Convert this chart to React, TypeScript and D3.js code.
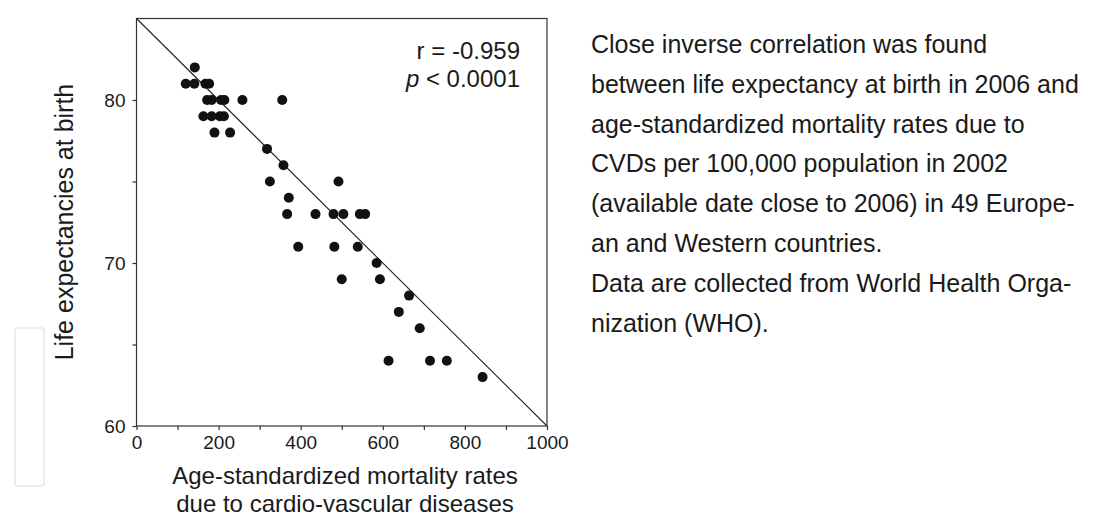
import React, { useEffect, useRef } from 'react';
import * as d3 from 'd3';

// mortality rates (per 100,000) and life expectancy
const mortality = [
    142,
    120, 141, 168, 177,
    172, 183, 206, 214, 258, 355,
    163, 183, 203, 213,
    190, 228,
    318,
    358,
    325, 492,
    371,
    367, 436, 480, 504, 544, 557,
    394, 482, 539,
    585,
    500, 593,
    664,
    639,
    690,
    614, 715, 756,
    843,
];
const lifeExp = [
    82,
    81, 81, 81, 81,
    80, 80, 80, 80, 80, 80,
    79, 79, 79, 79,
    78, 78,
    77,
    76,
    75, 75,
    74,
    73, 73, 73, 73, 73, 73,
    71, 71, 71,
    70,
    69, 69,
    68,
    67,
    66,
    64, 64, 64,
    63,
];
const fitX = [0, 1000];
const fitY = [85, 60];
const xTicks = [0, 100, 200, 300, 400, 500, 600, 700, 800, 900, 1000];
const yTicks = [60, 65, 70, 75, 80];
const noteLines = [
    'Close inverse correlation was found',
    'between life expectancy at birth in 2006 and',
    'age-standardized mortality rates due to',
    'CVDs per 100,000 population in 2002',
    '(available date close to 2006) in 49 Europe-',
    'an and Western countries.',
    'Data are collected from World Health Orga-',
    'nization (WHO).',
];

const FONT = '"Liberation Sans", Arial, Helvetica, sans-serif';

const App = () => {
    const svgRef = useRef();

    useEffect(() => {
        const svg = d3.select(svgRef.current);
        const width = 1112;
        const height = 519;
        svg.attr('width', width).attr('height', height).selectAll('*').remove();

        const x = d3.scaleLinear().domain([0, 1000]).range([136.5, 547]);
        const y = d3.scaleLinear().domain([60, 85]).range([426, 18.5]);
        const ink = '#1a1a1a';

        // faint box on the left edge of the scan
        svg.append('rect')
            .attr('x', 15).attr('y', 328).attr('width', 29).attr('height', 158)
            .attr('rx', 3)
            .attr('fill', 'none').attr('stroke', '#ededed').attr('stroke-width', 2);

        // frame
        svg.append('rect')
            .attr('x', x(0)).attr('y', y(85))
            .attr('width', x(1000) - x(0)).attr('height', y(60) - y(85))
            .attr('fill', 'none').attr('stroke', '#333').attr('stroke-width', 1.2);

        const gx = svg.append('g')
            .attr('transform', `translate(0, ${y(60)})`)
            .call(d3.axisBottom(x).tickValues(xTicks).tickSize(4).tickPadding(6)
                .tickFormat(d => (d % 200 === 0 ? String(d) : '')));
        const gy = svg.append('g')
            .attr('transform', `translate(${x(0)}, 0)`)
            .call(d3.axisLeft(y).tickValues(yTicks).tickSize(4).tickPadding(7)
                .tickFormat(d => (d % 10 === 0 ? String(d) : '')));
        [gx, gy].forEach(g => {
            g.select('.domain').remove();
            g.selectAll('line').attr('stroke', '#333').attr('stroke-width', 1.2);
            g.selectAll('text')
                .attr('font-family', FONT).attr('font-size', 19).attr('fill', ink);
        });

        // regression line
        svg.append('path')
            .datum(fitX.map((v, i) => [v, fitY[i]]))
            .attr('d', d3.line().x(d => x(d[0])).y(d => y(d[1])))
            .attr('fill', 'none').attr('stroke', '#222').attr('stroke-width', 1.1);

        svg.selectAll('.dot')
            .data(mortality.map((v, i) => [v, lifeExp[i]]))
            .enter()
            .append('circle')
            .attr('class', 'dot')
            .attr('cx', d => x(d[0]))
            .attr('cy', d => y(d[1]))
            .attr('r', 5)
            .attr('fill', '#111');

        // r and p
        const stat = svg.append('g')
            .attr('font-family', FONT).attr('font-size', 24).attr('fill', ink)
            .attr('text-anchor', 'end');
        stat.append('text').attr('x', 520).attr('y', 59).text('r = -0.959');
        const p = stat.append('text').attr('x', 520).attr('y', 87);
        p.append('tspan').attr('font-style', 'italic').text('p');
        p.append('tspan').text(' < 0.0001');

        // axis titles
        svg.append('text')
            .attr('transform', 'translate(73, 222) rotate(-90)')
            .attr('text-anchor', 'middle')
            .attr('font-family', FONT).attr('font-size', 25).attr('fill', ink)
            .text('Life expectancies at birth');
        const xt = svg.append('text')
            .attr('text-anchor', 'middle')
            .attr('font-family', FONT).attr('font-size', 24).attr('fill', ink);
        xt.append('tspan').attr('x', 345).attr('y', 484).text('Age-standardized mortality rates');
        xt.append('tspan').attr('x', 345).attr('y', 512).text('due to cardio-vascular diseases');

        // note on the right
        svg.append('g')
            .attr('font-family', FONT).attr('font-size', 25).attr('fill', ink)
            .selectAll('text')
            .data(noteLines)
            .enter()
            .append('text')
            .attr('x', 591)
            .attr('y', (d, i) => 53 + i * 39.8)
            .text(d => d);
    }, []);

    return <svg ref={svgRef} style={{ position: 'absolute', left: 0, top: 0 }}></svg>;
};

export default App;
